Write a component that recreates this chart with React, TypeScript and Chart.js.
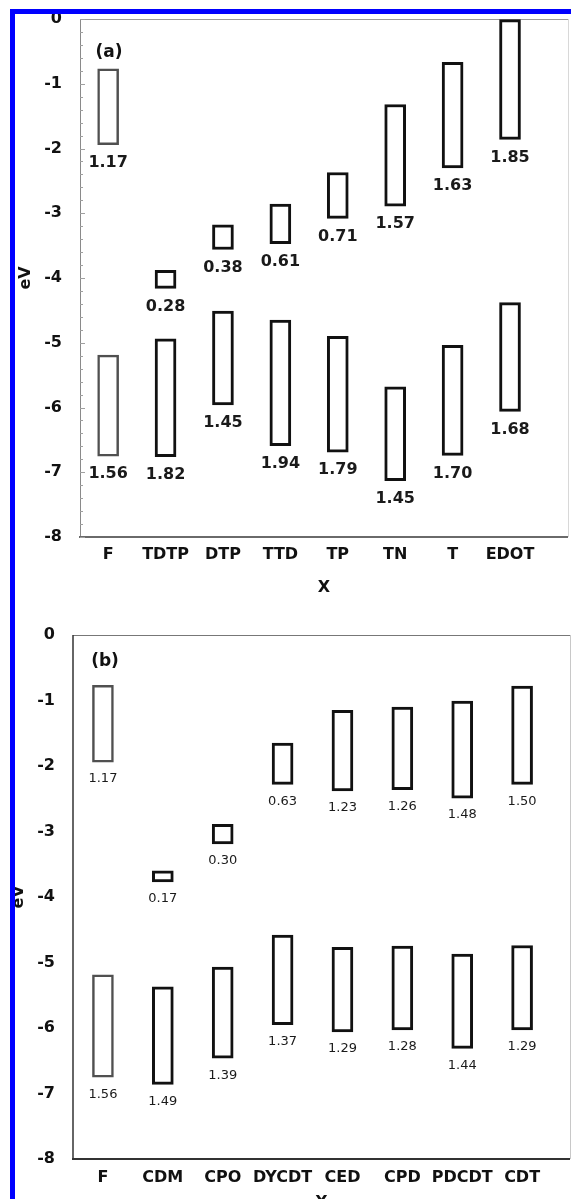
import React, { useEffect, useRef } from 'react';
import { Chart, registerables } from 'chart.js';

Chart.register(...registerables);

// ---------- Panel (a) data ----------
const categoriesA = ['F', 'TDTP', 'DTP', 'TTD', 'TP', 'TN', 'T', 'EDOT'];
const upperTopA = [-0.77, -3.88, -3.18, -2.86, -2.37, -1.32, -0.67, -0.01];
const upperBotA = [-1.94, -4.16, -3.56, -3.47, -3.08, -2.89, -2.3, -1.86];
const upperGapA = ['1.17', '0.28', '0.38', '0.61', '0.71', '1.57', '1.63', '1.85'];
const lowerTopA = [-5.19, -4.94, -4.51, -4.65, -4.9, -5.68, -5.04, -4.38];
const lowerBotA = [-6.75, -6.76, -5.96, -6.59, -6.69, -7.13, -6.74, -6.06];
const lowerGapA = ['1.56', '1.82', '1.45', '1.94', '1.79', '1.45', '1.70', '1.68'];

// ---------- Panel (b) data ----------
const categoriesB = ['F', 'CDM', 'CPO', 'DYCDT', 'CED', 'CPD', 'PDCDT', 'CDT'];
const upperTopB = [-0.77, -3.6, -2.89, -1.65, -1.15, -1.1, -1.01, -0.78];
const upperBotB = [-1.94, -3.77, -3.19, -2.28, -2.38, -2.36, -2.49, -2.28];
const upperGapB = ['1.17', '0.17', '0.30', '0.63', '1.23', '1.26', '1.48', '1.50'];
const lowerTopB = [-5.19, -5.37, -5.07, -4.58, -4.77, -4.75, -4.87, -4.74];
const lowerBotB = [-6.75, -6.86, -6.46, -5.95, -6.06, -6.03, -6.31, -6.03];
const lowerGapB = ['1.56', '1.49', '1.39', '1.37', '1.29', '1.28', '1.44', '1.29'];

// axis
const yMin = -8;
const yMax = 0;

const FONT = "'DejaVu Sans', 'Liberation Sans', Arial, sans-serif";

type Panel = {
  tag: string;
  categories: string[];
  upperTop: number[];
  upperBot: number[];
  upperGap: string[];
  lowerTop: number[];
  lowerBot: number[];
  lowerGap: string[];
  canvasTop: number;
  height: number;
  padding: { top: number; right: number; left: number; bottom: number };
  yWidth: number;
  xHeight: number;
  xMin: number;
  xMax: number;
  yTitlePad: number;
  xTitlePad: number;
  tickPadX: number;
  valueFont: string;
  valueOffset: number;
  tagDx: number;
  tagDy: number;
  frame: { left: [string, number]; top: [string, number]; right: [string, number]; bottom: [string, number] };
  minorTicks: boolean;
};

const panelA: Panel = {
  tag: '(a)',
  categories: categoriesA,
  upperTop: upperTopA,
  upperBot: upperBotA,
  upperGap: upperGapA,
  lowerTop: lowerTopA,
  lowerBot: lowerBotA,
  lowerGap: lowerGapA,
  canvasTop: 0,
  height: 600,
  padding: { top: 19, right: 3, left: 0, bottom: 0 },
  yWidth: 80,
  xHeight: 63,
  xMin: 0.51,
  xMax: 9.01,
  yTitlePad: 16,
  xTitlePad: 3,
  tickPadX: 8,
  valueFont: `bold 16px ${FONT}`,
  valueOffset: 18,
  tagDx: 29,
  tagDy: 34,
  frame: {
    left: ['#8a8a8a', 1],
    top: ['#9a9a9a', 1],
    right: ['#d8d8d8', 1],
    bottom: ['#6a6a6a', 2],
  },
  minorTicks: true,
};

const panelB: Panel = {
  tag: '(b)',
  categories: categoriesB,
  upperTop: upperTopB,
  upperBot: upperBotB,
  upperGap: upperGapB,
  lowerTop: lowerTopB,
  lowerBot: lowerBotB,
  lowerGap: lowerGapB,
  canvasTop: 600,
  height: 620,
  padding: { top: 35, right: 1, left: 0, bottom: 0 },
  yWidth: 73,
  xHeight: 61,
  xMin: 0.5,
  xMax: 8.8,
  yTitlePad: 9,
  xTitlePad: 8,
  tickPadX: 9,
  valueFont: `13px ${FONT}`,
  valueOffset: 17,
  tagDx: 32,
  tagDy: 27,
  frame: {
    left: ['#333333', 1.5],
    top: ['#777777', 1],
    right: ['#c8c8c8', 1],
    bottom: ['#333333', 2],
  },
  minorTicks: false,
};

function hline(ctx: CanvasRenderingContext2D, x1: number, x2: number, y: number, color: string, w: number) {
  ctx.beginPath();
  ctx.strokeStyle = color;
  ctx.lineWidth = w;
  const yy = w % 2 === 1 ? Math.round(y) + 0.5 : Math.round(y);
  ctx.moveTo(x1, yy);
  ctx.lineTo(x2, yy);
  ctx.stroke();
}
function vline(ctx: CanvasRenderingContext2D, x: number, y1: number, y2: number, color: string, w: number) {
  ctx.beginPath();
  ctx.strokeStyle = color;
  ctx.lineWidth = w;
  const xx = w % 2 === 1 ? Math.round(x) + 0.5 : Math.round(x);
  ctx.moveTo(xx, y1);
  ctx.lineTo(xx, y2);
  ctx.stroke();
}

function makePlugin(p: Panel) {
  return {
    id: 'panelDecor',
    beforeDatasetsDraw(chart: any) {
      const { ctx, chartArea: a } = chart;
      const ys = chart.scales.y;
      ctx.save();
      hline(ctx, a.left, a.right, a.top, p.frame.top[0], p.frame.top[1]);
      vline(ctx, a.right, a.top, a.bottom, p.frame.right[0], p.frame.right[1]);
      vline(ctx, a.left, a.top, a.bottom, p.frame.left[0], p.frame.left[1]);
      hline(ctx, a.left - 1, a.right, a.bottom, p.frame.bottom[0], p.frame.bottom[1]);
      if (p.minorTicks) {
        for (let k = 0; k <= 40; k++) {
          const v = yMin + k * 0.2;
          const py = ys.getPixelForValue(v);
          const major = k % 5 === 0;
          hline(ctx, a.left, a.left + (major ? 5 : 3), py, '#a0a0a0', 1);
        }
      }
      ctx.restore();
    },
    afterDatasetsDraw(chart: any) {
      const { ctx, chartArea: a } = chart;
      const xs = chart.scales.x;
      const ys = chart.scales.y;
      ctx.save();
      ctx.fillStyle = '#1a1a1a';
      ctx.font = p.valueFont;
      ctx.textAlign = 'center';
      ctx.textBaseline = 'middle';
      p.categories.forEach((_, i) => {
        const px = xs.getPixelForValue(i + 1);
        ctx.fillText(p.upperGap[i], px, ys.getPixelForValue(p.upperBot[i]) + p.valueOffset);
        ctx.fillText(p.lowerGap[i], px, ys.getPixelForValue(p.lowerBot[i]) + p.valueOffset);
      });
      ctx.font = `bold 17px ${FONT}`;
      ctx.fillStyle = '#111';
      ctx.fillText(p.tag, a.left + p.tagDx, a.top + p.tagDy);
      ctx.restore();
    },
  };
}

function buildConfig(p: Panel): any {
  const borderColors = p.categories.map((_, i) => (i === 0 ? '#505050' : '#111111'));
  const borderWidths = p.categories.map((_, i) => (i === 0 ? 2.5 : 3));
  return {
    type: 'bar',
    data: {
      datasets: [
        {
          label: 'upper',
          data: p.categories.map((_, i) => ({ x: i + 1, y: [p.upperBot[i], p.upperTop[i]] })),
          backgroundColor: '#ffffff',
          borderColor: borderColors,
          borderWidth: borderWidths,
          borderSkipped: false,
          barThickness: 21,
          grouped: false,
        },
        {
          label: 'lower',
          data: p.categories.map((_, i) => ({ x: i + 1, y: [p.lowerBot[i], p.lowerTop[i]] })),
          backgroundColor: '#ffffff',
          borderColor: borderColors,
          borderWidth: borderWidths,
          borderSkipped: false,
          barThickness: 21,
          grouped: false,
        },
      ],
    },
    options: {
      responsive: false,
      animation: false,
      events: [],
      layout: { padding: p.padding },
      plugins: {
        legend: { display: false },
        tooltip: { enabled: false },
      },
      scales: {
        x: {
          type: 'linear',
          min: p.xMin,
          max: p.xMax,
          offset: false,
          grid: { display: false, drawTicks: false },
          border: { display: false },
          afterBuildTicks: (scale: any) => {
            scale.ticks = p.categories.map((_, i) => ({ value: i + 1 }));
          },
          afterFit: (scale: any) => {
            scale.height = p.xHeight;
            scale.paddingLeft = 0;
            scale.paddingRight = 0;
          },
          ticks: {
            autoSkip: false,
            maxRotation: 0,
            minRotation: 0,
            padding: p.tickPadX,
            color: '#111',
            font: { family: FONT, size: 16, weight: 'bold' },
            callback: (value: number) => p.categories[Math.round(value) - 1] ?? '',
          },
          title: {
            display: true,
            text: 'X',
            color: '#111',
            font: { family: FONT, size: 16, weight: 'bold' },
            padding: { top: 0, bottom: p.xTitlePad },
          },
        },
        y: {
          type: 'linear',
          min: yMin,
          max: yMax,
          grid: { display: false, drawTicks: false },
          border: { display: false },
          afterFit: (scale: any) => {
            scale.width = p.yWidth;
            scale.paddingTop = 0;
            scale.paddingBottom = 0;
          },
          ticks: {
            stepSize: 1,
            padding: 18,
            color: '#111',
            font: { family: FONT, size: 16, weight: 'bold' },
          },
          title: {
            display: true,
            text: 'eV',
            color: '#111',
            font: { family: FONT, size: 16, weight: 'bold' },
            padding: { top: p.yTitlePad, bottom: 0 },
          },
        },
      },
    },
    plugins: [makePlugin(p)],
  };
}

function PanelChart({ p }: { p: Panel }) {
  const ref = useRef<HTMLCanvasElement | null>(null);
  useEffect(() => {
    if (!ref.current) return;
    const chart = new Chart(ref.current, buildConfig(p));
    return () => chart.destroy();
  }, [p]);
  return (
    <canvas
      ref={ref}
      width={571}
      height={p.height}
      style={{ position: 'absolute', left: 0, top: p.canvasTop, width: 571, height: p.height, display: 'block' }}
    />
  );
}

export default function App() {
  return (
    <div
      style={{
        position: 'absolute',
        left: 0,
        top: 0,
        width: 571,
        height: 1199,
        overflow: 'hidden',
        background: '#ffffff',
      }}
    >
      <PanelChart p={panelA} />
      <PanelChart p={panelB} />
      <div
        style={{
          position: 'absolute',
          left: 10,
          top: 9,
          width: 561,
          height: 1190,
          borderTop: '5px solid #0000ff',
          borderLeft: '5px solid #0000ff',
          boxSizing: 'border-box',
          pointerEvents: 'none',
          zIndex: 2,
        }}
      />
    </div>
  );
}
